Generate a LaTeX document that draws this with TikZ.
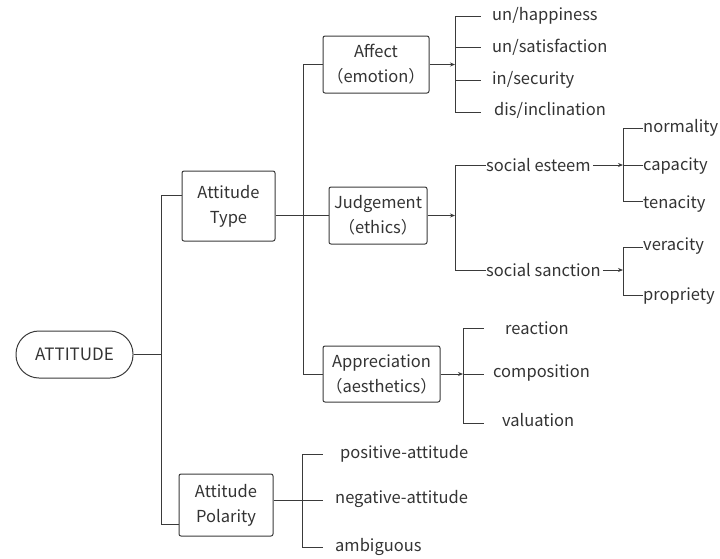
\documentclass[tikz,border=0pt]{standalone}
\usepackage{fontspec}
\setmainfont{Noto Sans CJK SC}
\usetikzlibrary{arrows.meta}
\definecolor{ln}{HTML}{3A3A3A}
\definecolor{tx}{HTML}{333333}
\tikzset{
  box/.style={draw=ln, line width=1pt, rounded corners=2pt, align=center, text=tx, inner sep=0pt, font=\fontsize{16.5}{25}\selectfont},
  leaf/.style={anchor=west, text=tx, inner sep=0pt, font=\fontsize{16.5}{20}\selectfont},
  ln/.style={draw=ln, line width=1pt},
  arr/.style={ln, -{Stealth[length=5pt,width=4pt]}},
}
\begin{document}
\begin{tikzpicture}[x=1pt,y=-1pt]
\useasboundingbox (0,0) rectangle (720,558);
% main nodes
\node[box, rounded corners=23pt, minimum width=117pt, minimum height=47pt, font=\fontsize{17}{22}\selectfont] (att) at (74.5,354.5) {ATTITUDE};
\node[box, minimum width=93pt, minimum height=70pt] (type) at (228.5,206) {Attitude\\Type};
\node[box, minimum width=94pt, minimum height=62pt] (pol) at (226,505) {Attitude\\Polarity};
\node[box, minimum width=106pt, minimum height=57pt] (aff) at (376,64.5) {Affect\\（emotion）};
\node[box, minimum width=98pt, minimum height=57pt] (jud) at (378,215.5) {Judgement\\（ethics）};
\node[box, minimum width=117pt, minimum height=56pt] (app) at (381.5,374) {Appreciation\\（aesthetics）};
% level 0
\coordinate (v0t) at (161,195);
\coordinate (v0b) at (161,524);
\draw[ln] (att.east) -- (att.east -| v0t);
\draw[ln] (v0t) -- (v0b);
\draw[ln] (v0t) -- (v0t -| type.west);
\draw[ln] (v0b) -- (v0b -| pol.west);
% level 1 (type)
\coordinate (v1t) at (303,64.5);
\coordinate (v1b) at (303,374);
\draw[ln] (v1t) -- (v1b);
\draw[ln] (v1t) -- (aff.west);
\draw[ln] (v1b) -- (app.west);
\draw[ln] (type.east |- jud.west) -- (jud.west);
% affect
\coordinate (va) at (455,64.5);
\coordinate (vat) at (455,16);
\coordinate (vab) at (455,112);
\draw[arr] (aff.east) -- (va);
\draw[ln] (vat) -- (vab);
\node[leaf] (a1) at (492,16) {un/happiness};
\node[leaf] (a2) at (492,47) {un/satisfaction};
\node[leaf] (a3) at (492,80) {in/security};
\node[leaf] (a4) at (494,110) {dis/inclination};
\draw[ln] (vat) -- (481,16);
\draw[ln] (455,47) -- (481,47);
\draw[ln] (455,80) -- (481,80);
\draw[ln] (vab) -- (481,112);
% judgement
\coordinate (vj) at (455,215.5);
\coordinate (vjt) at (455,165);
\coordinate (vjb) at (455,270);
\draw[arr] (jud.east) -- (vj);
\draw[ln] (vjt) -- (vjb);
\node[leaf] (se) at (486,165) {social esteem};
\node[leaf] (ss) at (486,270) {social sanction};
\draw[ln] (vjt) -- (se.west |- vjt);
\draw[ln] (vjb) -- (ss.west |- vjb);
% social esteem
\coordinate (vs) at (623,165);
\coordinate (vst) at (623,128);
\coordinate (vsb) at (623,201);
\draw[arr] (se.east |- vs) ++(2,0) -- (vs);
\draw[ln] (vst) -- (vsb);
\node[leaf] (n1) at (643,128) {normality};
\node[leaf] (n2) at (643,166) {capacity};
\node[leaf] (n3) at (643,204) {tenacity};
\draw[ln] (vst) -- (n1.west |- vst);
\draw[ln] (vs) -- (n2.west |- vs);
\draw[ln] (vsb) -- (n3.west |- vsb);
% social sanction
\coordinate (vc) at (623,270);
\coordinate (vct) at (623,247);
\coordinate (vcb) at (623,295);
\draw[arr] (ss.east |- vc) ++(2,0) -- (vc);
\draw[ln] (vct) -- (vcb);
\node[leaf] (p1) at (643,246) {veracity};
\node[leaf] (p2) at (643,296) {propriety};
\draw[ln] (vct) -- (p1.west |- vct);
\draw[ln] (vcb) -- (p2.west |- vcb);
% appreciation
\coordinate (vp) at (463,374);
\coordinate (vpt) at (463,328);
\coordinate (vpb) at (463,423);
\draw[arr] (app.east) -- (vp);
\draw[ln] (vpt) -- (vpb);
\node[leaf] (r1) at (505,328) {reaction};
\node[leaf] (r2) at (493,373) {composition};
\node[leaf] (r3) at (502,420) {valuation};
\draw[ln] (vpt) -- (484,328);
\draw[ln] (vp) -- (484,374);
\draw[ln] (vpb) -- (484,423);
% polarity
\coordinate (vq) at (302,500);
\coordinate (vqt) at (302,454);
\coordinate (vqb) at (302,547);
\draw[ln] (pol.east |- vq) -- (vq);
\draw[ln] (vqt) -- (vqb);
\node[leaf] (q1) at (340,454) {positive-attitude};
\node[leaf] (q2) at (335,499) {negative-attitude};
\node[leaf] (q3) at (335,547) {ambiguous};
\draw[ln] (vqt) -- (323,454);
\draw[ln] (vq) -- (323,500);
\draw[ln] (vqb) -- (323,547);
\end{tikzpicture}
\end{document}
